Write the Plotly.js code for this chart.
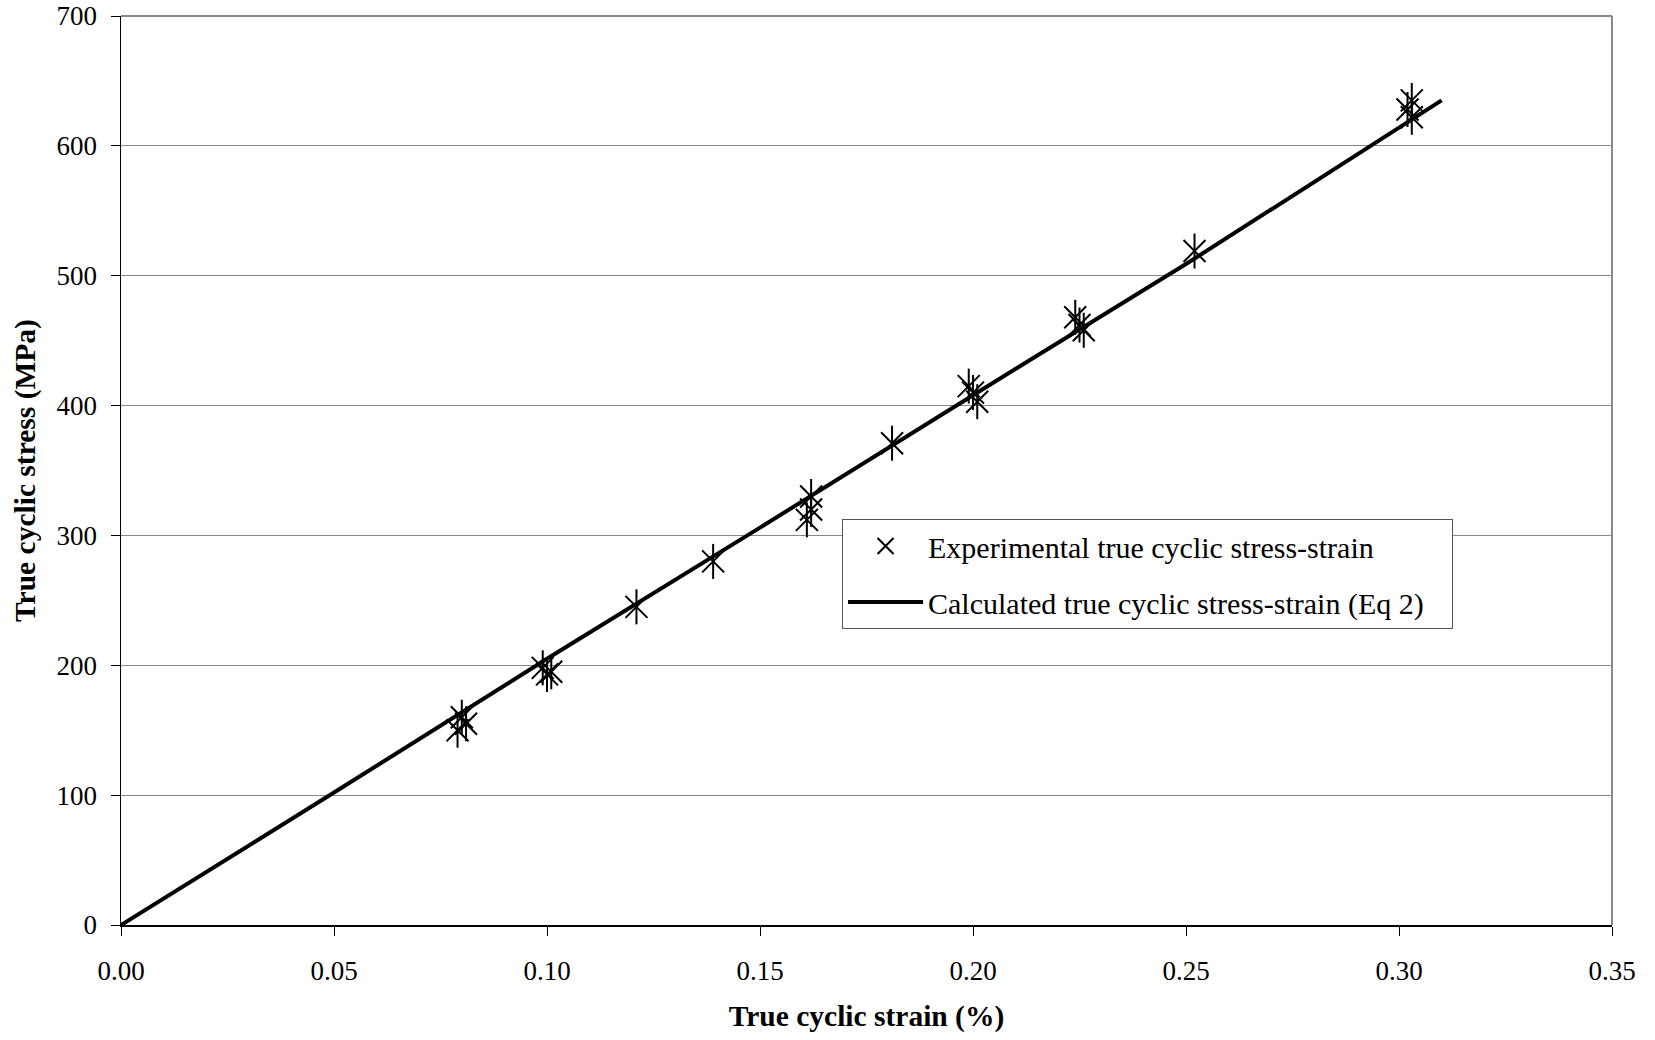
<!DOCTYPE html>
<html>
<head>
<meta charset="utf-8">
<script src="https://cdn.plot.ly/plotly-3.0.1.min.js"></script>
<style>html,body{margin:0;padding:0;background:#fff;}#chart{width:1655px;height:1040px;}</style>
</head>
<body>
<div id="chart"></div>
<script>
// Experimental points (true cyclic strain %, true cyclic stress MPa)
const expStrain = [0.079, 0.081, 0.080, 0.099, 0.100, 0.101, 0.121, 0.139, 0.162, 0.162, 0.161, 0.181, 0.199, 0.200, 0.201, 0.224, 0.225, 0.226, 0.252, 0.303, 0.302, 0.303];
const expStress = [150, 155, 160, 198, 193, 195, 245, 280, 330, 320, 312, 371, 415, 410, 403, 468, 462, 458, 519, 635, 628, 622];
// Calculated curve (Eq 2)
const calcStrain = [0, 0.05, 0.10, 0.15, 0.20, 0.25, 0.31];
const calcStress = [0, 102, 205, 306, 408, 509, 635];
const xTicks = [0, 0.05, 0.10, 0.15, 0.20, 0.25, 0.30, 0.35];
const xTickLabels = ["0.00", "0.05", "0.10", "0.15", "0.20", "0.25", "0.30", "0.35"];
const yTicks = [0, 100, 200, 300, 400, 500, 600, 700];

const FONT = "Liberation Serif, Times New Roman, serif";
const PAD = "\u00a0\u00a0\u00a0";
const data = [
  {x: calcStrain, y: calcStress, mode: 'lines', name: 'Calculated true cyclic stress-strain (Eq 2)' + PAD,
   line: {color: '#000', width: 4}, legendrank: 2, legendgroup: 'b'},
  {x: expStrain, y: expStress, mode: 'markers', name: 'Experimental true cyclic stress-strain',
   marker: {symbol: 'x-thin-open', size: 22, color: '#000', line: {color: '#000', width: 2}}, legendrank: 1, legendgroup: 'a'},
  {x: expStrain, y: expStress, mode: 'markers', showlegend: false, hoverinfo: 'skip',
   marker: {symbol: 'line-ns-open', size: 25, color: '#000', line: {color: '#000', width: 2}}}
];
const layout = {
  width: 1655, height: 1040,
  margin: {l: 121, r: 43, t: 16, b: 115},
  paper_bgcolor: '#fff', plot_bgcolor: '#fff',
  font: {family: FONT, color: '#000', size: 27},
  showlegend: true,
  legend: {x: 0.4836, y: 0.4466, xanchor: 'left', yanchor: 'top', bgcolor: '#fff',
           bordercolor: '#555', borderwidth: 1, font: {family: FONT, size: 30, color: '#000'},
           traceorder: 'grouped', tracegroupgap: 14, itemwidth: 75},
  xaxis: {range: [0, 0.35], tickvals: xTicks, ticktext: xTickLabels, showgrid: false, zeroline: false,
          showline: true, linecolor: '#000', linewidth: 1.5, ticks: 'outside', ticklen: 9, tickcolor: '#000',
          tickfont: {family: FONT, size: 27}, ticklabelstandoff: 12,
          title: {text: '<b>True cyclic strain (%)</b>', font: {family: FONT, size: 29.5}, standoff: 20}},
  yaxis: {range: [0, 700], tickvals: yTicks, showgrid: true, gridcolor: '#888', gridwidth: 1.2, zeroline: false,
          showline: true, linecolor: '#000', linewidth: 1.5, ticks: 'outside', ticklen: 9, tickcolor: '#000',
          tickfont: {family: FONT, size: 27}, ticklabelstandoff: 8,
          title: {text: '<b>True cyclic stress (MPa)</b>', font: {family: FONT, size: 29.5}, standoff: 12}},
  shapes: [
    {type: 'line', xref: 'paper', yref: 'paper', x0: 0, x1: 1, y0: 1, y1: 1, line: {color: '#888', width: 2}},
    {type: 'line', xref: 'paper', yref: 'paper', x0: 1, x1: 1, y0: 0, y1: 1, line: {color: '#888', width: 2}}
  ]
};
Plotly.newPlot('chart', data, layout, {displayModeBar: false, staticPlot: true});
</script>
</body>
</html>
